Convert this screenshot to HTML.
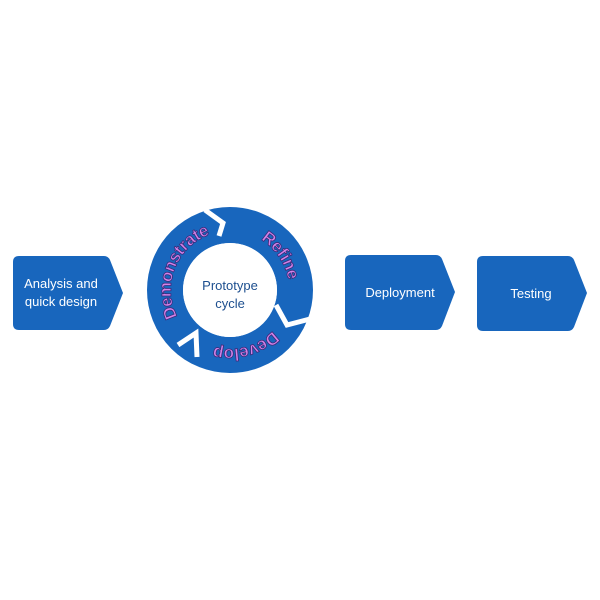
<!DOCTYPE html>
<html><head><style>html,body{margin:0;padding:0;background:#fff;width:600px;height:600px;overflow:hidden}
.ring{font-family:"Liberation Sans",sans-serif;font-size:17px;font-weight:700;fill:#d283e8;stroke:#3d2a78;stroke-width:0.8px;letter-spacing:0.5px}
</style></head>
<body>
<svg width="600" height="600" viewBox="0 0 600 600" xmlns="http://www.w3.org/2000/svg" font-family="Liberation Sans, sans-serif">
<rect width="600" height="600" fill="#fff"/>
<g fill="#1866bd">
<path d="M19,256 H104 Q108,256 110,260 L123,293 L110,326 Q108,330 104,330 H19 Q13,330 13,324 V262 Q13,256 19,256 Z"/>
<path d="M351,255 H436 Q440,255 442,259 L455,292 L442,326 Q440,330 436,330 H351 Q345,330 345,324 V261 Q345,255 351,255 Z"/>
<path d="M483,256 H568 Q572,256 574,260 L587,293 L574,327 Q572,331 568,331 H483 Q477,331 477,325 V262 Q477,256 483,256 Z"/>
</g>
<g fill="#fff" font-size="13" text-anchor="middle">
<text x="61" y="288">Analysis and</text>
<text x="61" y="306">quick design</text>
<text x="400" y="297">Deployment</text>
<text x="531" y="298">Testing</text>
</g>
<circle cx="230" cy="290" r="65" fill="none" stroke="#1866bd" stroke-width="36"/>
<circle cx="230" cy="290" r="47" fill="#fff"/>
<g fill="none" stroke="#fff" stroke-width="5" stroke-linejoin="miter">
<polyline points="205,210 223,223 219,236"/>
<polyline points="276,305 287,325 310,319"/>
<polyline points="178,345 196,333 197,357"/>
</g>
<text x="230" y="290" text-anchor="middle" fill="#1d4f8f" font-size="13">Prototype</text>
<text x="230" y="308" text-anchor="middle" fill="#1d4f8f" font-size="13">cycle</text>
<defs>
<path id="cp" d="M230,355 A65,65 0 1,1 230,225 A65,65 0 1,1 230,355 A65,65 0 1,1 230,225 A65,65 0 1,1 230,355"/>
</defs>
<text class="ring" dy="6"><textPath href="#cp" startOffset="72">Demonstrate</textPath></text>
<text class="ring" dy="6"><textPath href="#cp" startOffset="240">Refine</textPath></text>
<text class="ring" dy="6"><textPath href="#cp" startOffset="356">Develop</textPath></text>
</svg>
</body></html>
